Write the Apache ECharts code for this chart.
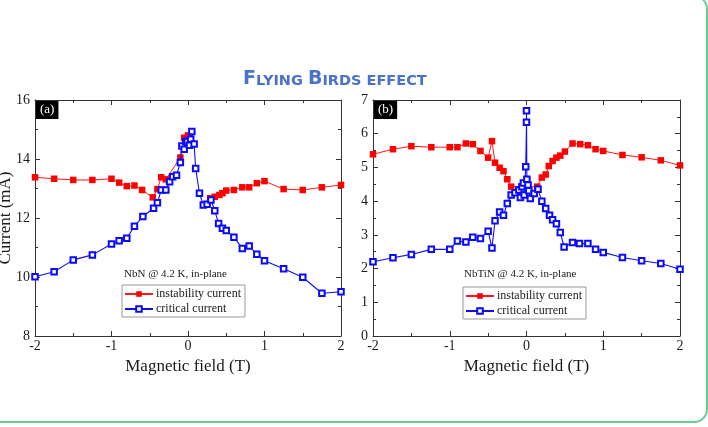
<!DOCTYPE html>
<html>
<head>
<meta charset="utf-8">
<script src="https://cdn.jsdelivr.net/npm/echarts@6/dist/echarts.min.js"></script>
<style>
html,body{margin:0;padding:0;background:#fff;overflow:hidden;}
#wrap{position:relative;width:708px;height:427px;overflow:hidden;}
#card{position:absolute;left:-20px;top:-5px;width:728px;height:428px;box-sizing:border-box;border:2px solid #68cf93;border-radius:14px;}
#chart{position:absolute;left:0;top:0;width:708px;height:427px;}
</style>
</head>
<body>
<div id="wrap"><div id="card"></div><div id="chart"></div></div>
<script>
// ---------- data ----------
// Panel (a) NbN
const aFieldInst = [-2, -1.75, -1.5, -1.25, -1, -0.9, -0.8, -0.7, -0.6, -0.46, -0.4, -0.35, -0.29, -0.1, -0.05, 0.0, 0.15, 0.29, 0.35, 0.41, 0.45, 0.5, 0.6, 0.71, 0.8, 0.9, 1.0, 1.25, 1.5, 1.75, 2.0];
const aInst = [13.38, 13.33, 13.29, 13.29, 13.33, 13.2, 13.08, 13.1, 12.95, 12.7, 12.98, 13.38, 13.31, 14.05, 14.72, 14.8, null, 12.67, 12.72, 12.78, 12.84, 12.93, 12.95, 13.04, 13.04, 13.18, 13.25, 12.98, 12.95, 13.04, 13.12];
const aFieldCrit = [-2, -1.75, -1.5, -1.25, -1.0, -0.9, -0.8, -0.7, -0.59, -0.45, -0.4, -0.35, -0.29, -0.24, -0.2, -0.15, -0.1, -0.08, -0.05, -0.03, -0.01, 0.02, 0.035, 0.05, 0.08, 0.1, 0.15, 0.2, 0.25, 0.3, 0.35, 0.4, 0.45, 0.5, 0.6, 0.71, 0.8, 0.9, 1.0, 1.25, 1.5, 1.75, 2.0];
const aCrit = [10.01, 10.18, 10.58, 10.75, 11.12, 11.23, 11.31, 11.72, 12.05, 12.33, 12.52, 12.95, 12.95, 13.23, 13.4, 13.45, 13.88, 14.44, 14.33, 14.59, 14.59, 14.47, 14.67, 14.93, 14.51, 13.68, 12.84, 12.44, 12.47, 12.61, 12.25, 11.81, 11.65, 11.58, 11.35, 10.97, 11.05, 10.77, 10.55, 10.28, 9.99, 9.45, 9.5];
// Panel (b) NbTiN
const bFieldInst = [-2, -1.74, -1.5, -1.24, -1.0, -0.9, -0.79, -0.7, -0.6, -0.5, -0.45, -0.41, -0.35, -0.3, -0.25, -0.2, 0.14, 0.2, 0.25, 0.29, 0.34, 0.39, 0.44, 0.5, 0.6, 0.7, 0.8, 0.9, 1.0, 1.25, 1.5, 1.75, 2.0];
const bInst = [5.39, 5.54, 5.63, 5.6, 5.6, 5.6, 5.71, 5.69, 5.49, 5.29, 5.78, 5.14, 4.99, 4.89, 4.65, 4.43, 4.43, 4.7, 4.79, 5.04, 5.19, 5.29, 5.35, 5.47, 5.71, 5.69, 5.66, 5.54, 5.49, 5.37, 5.3, 5.21, 5.06];
const bFieldCrit = [-2, -1.74, -1.5, -1.24, -1.0, -0.9, -0.79, -0.7, -0.6, -0.5, -0.45, -0.41, -0.35, -0.3, -0.25, -0.2, -0.15, -0.1, -0.08, -0.06, -0.04, -0.03, -0.01, 0.0, 0.0, 0.005, 0.02, 0.03, 0.05, 0.1, 0.15, 0.2, 0.25, 0.3, 0.34, 0.39, 0.44, 0.49, 0.6, 0.69, 0.8, 0.9, 1.0, 1.25, 1.5, 1.75, 2.0];
const bCrit = [2.2, 2.32, 2.42, 2.57, 2.57, 2.82, 2.79, 2.93, 2.89, 3.11, 2.61, 3.42, 3.68, 3.58, 3.93, 4.18, 4.25, 4.33, 4.11, 4.43, 4.54, 4.18, 5.02, 6.34, 6.68, 4.65, 4.48, 4.31, 4.08, 4.23, 4.35, 4.0, 3.78, 3.58, 3.45, 3.33, 3.07, 2.64, 2.77, 2.74, 2.74, 2.57, 2.48, 2.33, 2.23, 2.15, 1.98];

const seriesNames = ['instability current', 'critical current'];
const panelTags = ['(a)', '(b)'];
const panelNotes = ['NbN @ 4.2 K, in-plane', 'NbTiN @ 4.2 K, in-plane'];
const xName = 'Magnetic field (T)';
const yName = 'Current (mA)';

// ---------- helpers ----------
const pairs = (xs, ys) => xs.map((x, i) => [x, ys[i] === null ? '-' : ys[i]]);
const SERIF = 'Liberation Serif';
const ink = '#1a1a1a';

function xAx(grid, top) {
  return {
    type: 'value', gridIndex: grid, position: top ? 'top' : 'bottom',
    min: -2, max: 2, interval: 1,
    name: top ? '' : xName, nameLocation: 'middle', nameGap: 17,
    nameTextStyle: {fontFamily: SERIF, fontSize: 17, color: ink},
    axisLine: {show: true, onZero: false, lineStyle: {color: '#333', width: 1}},
    axisTick: {show: true, inside: true, length: 5, lineStyle: {color: '#333'}},
    minorTick: {show: true, splitNumber: 2, length: 3, lineStyle: {color: '#333'}},
    axisLabel: {show: !top, fontFamily: SERIF, fontSize: 14, color: ink, margin: 3},
    splitLine: {show: false}
  };
}
function yAx(grid, right, min, max, interval, withName) {
  return {
    type: 'value', gridIndex: grid, position: right ? 'right' : 'left',
    min: min, max: max, interval: interval,
    name: withName ? yName : '', nameLocation: 'middle', nameGap: 21, nameRotate: 90,
    nameMoveOverlap: false,
    nameTextStyle: {fontFamily: SERIF, fontSize: 17, color: ink},
    axisLine: {show: true, onZero: false, lineStyle: {color: '#333', width: 1}},
    axisTick: {show: true, inside: true, length: 5, lineStyle: {color: '#333'}},
    minorTick: {show: true, splitNumber: 2, length: 3, lineStyle: {color: '#333'}},
    axisLabel: {show: !right, fontFamily: SERIF, fontSize: 14, color: ink, margin: 5},
    splitLine: {show: false}
  };
}
function instSeries(xi, yi, data) {
  return {
    name: seriesNames[0], type: 'line', xAxisIndex: xi, yAxisIndex: yi,
    data: data, connectNulls: false,
    symbol: 'rect', symbolSize: 6.5,
    itemStyle: {color: '#ff0000'},
    lineStyle: {color: '#ff1a1a', width: 1}, z: 2
  };
}
function critSeries(xi, yi, data) {
  return {
    name: seriesNames[1], type: 'line', xAxisIndex: xi, yAxisIndex: yi,
    data: data,
    symbol: 'emptyRect', symbolSize: 5.5,
    itemStyle: {color: '#0a0aff', borderWidth: 1.5},
    lineStyle: {color: '#1010ee', width: 1.1}, z: 3
  };
}
function legendAt(left, top) {
  return {
    orient: 'vertical', left: left, top: top, selectedMode: false,
    data: seriesNames,
    itemWidth: 28, itemHeight: 7, itemGap: 3,
    padding: [3, 4, 2, 2],
    borderColor: '#999', borderWidth: 1,
    textStyle: {fontFamily: SERIF, fontSize: 12, color: ink, padding: [0, 0, 0, -2]}
  };
}
function noteTitle(text, left) {
  return {text: text, left: left, top: 269, padding: 0,
    textStyle: {fontFamily: SERIF, fontSize: 11, fontWeight: 'normal', color: ink}};
}
function tagTitle(text, left) {
  return {text: text, left: left, top: 101, padding: [2, 4, 3, 4], backgroundColor: '#000',
    textStyle: {fontFamily: SERIF, fontSize: 13, fontWeight: 'normal', color: '#fff'}};
}

const chart = echarts.init(document.getElementById('chart'), null, {renderer: 'canvas'});
chart.setOption({
  animation: false,
  backgroundColor: 'transparent',
  title: [
    {
      text: '{b|F}{s|LYING }{b|B}{s|IRDS EFFECT}',
      left: 243, top: 67, padding: 0,
      textStyle: {
        rich: {
          b: {fontFamily: 'DejaVu Sans', fontWeight: 'bold', fontSize: 19, color: '#4a72c8', verticalAlign: 'bottom', lineHeight: 22},
          s: {fontFamily: 'DejaVu Sans', fontWeight: 'bold', fontSize: 14.5, color: '#4a72c8', verticalAlign: 'bottom', lineHeight: 22}
        }
      }
    },
    noteTitle(panelNotes[0], 124),
    noteTitle(panelNotes[1], 464),
    tagTitle(panelTags[0], 36),
    tagTitle(panelTags[1], 374)
  ],
  legend: [legendAt(122, 285), legendAt(463, 287)],
  grid: [
    {left: 35, top: 100, width: 306, height: 236, containLabel: false, outerBoundsMode: 'none'},
    {left: 373, top: 100, width: 307, height: 236, containLabel: false, outerBoundsMode: 'none'}
  ],
  xAxis: [xAx(0, false), xAx(0, true), xAx(1, false), xAx(1, true)],
  yAxis: [
    yAx(0, false, 8, 16, 2, true), yAx(0, true, 8, 16, 2, false),
    yAx(1, false, 0, 7, 1, false), yAx(1, true, 0, 7, 1, false)
  ],
  series: [
    instSeries(0, 0, pairs(aFieldInst, aInst)),
    critSeries(0, 0, pairs(aFieldCrit, aCrit)),
    instSeries(2, 2, pairs(bFieldInst, bInst)),
    critSeries(2, 2, pairs(bFieldCrit, bCrit))
  ]
});
</script>
</body>
</html>
